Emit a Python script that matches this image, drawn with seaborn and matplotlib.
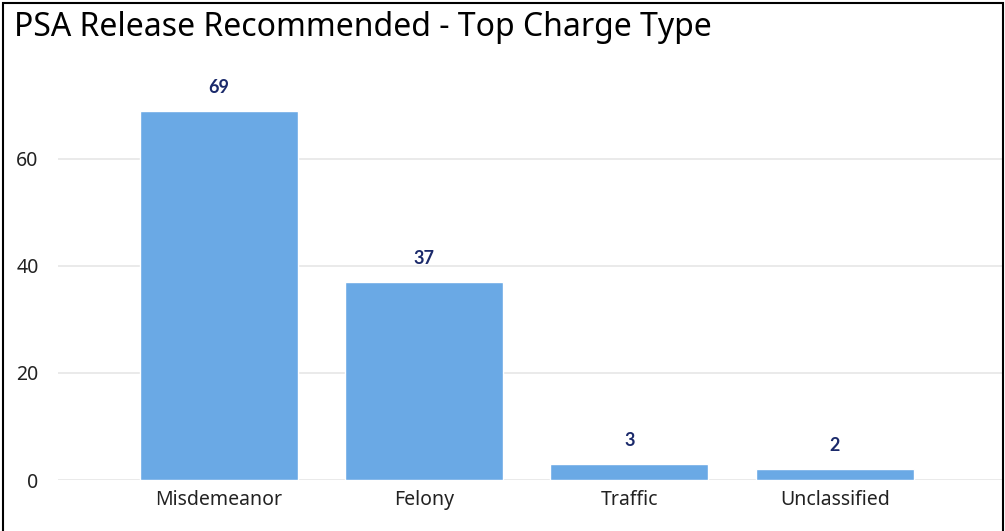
import matplotlib
matplotlib.use("Agg")
import matplotlib.pyplot as plt
import pandas as pd
import seaborn as sns
from matplotlib.patches import Rectangle

charge_types = ["Misdemeanor", "Felony", "Traffic", "Unclassified"]
counts = [69, 37, 3, 2]
y_ticks = [0, 20, 40, 60]

df = pd.DataFrame({"charge": charge_types, "count": counts})

sns.set_style("white")
plt.rcParams["font.family"] = ["Noto Sans", "DejaVu Sans"]

fig = plt.figure(figsize=(10.05, 5.31), dpi=100)
ax = fig.add_axes([58 / 1005, 51 / 531, 945 / 1005, 420 / 531])

sns.barplot(data=df, x="charge", y="count", color="#6aa9e5", width=0.77,
            saturation=1, ax=ax)

# value labels above bars
for i, v in enumerate(counts):
    ax.annotate(str(v), (i, v), xytext=(0, 11), textcoords="offset points",
                ha="center", va="bottom", fontsize=13, fontweight="bold",
                color="#1b2a6b", family="Lato")

ax.set_xlim(-0.784, 3.82)
ax.set_ylim(0, 78.5)
ax.set_yticks(y_ticks)
ax.yaxis.grid(True, color="#e6e6e6", linewidth=1.2)
ax.set_axisbelow(True)
for s in ax.spines.values():
    s.set_visible(False)
ax.tick_params(axis="both", length=0, labelsize=14, colors="#222222")
ax.tick_params(axis="x", pad=7)
ax.tick_params(axis="y", pad=14)
ax.set_xlabel("")
ax.set_ylabel("")

fig.text(14 / 1005, 1 - 27 / 531, "PSA Release Recommended - Top Charge Type",
         fontsize=23, va="center", ha="left", color="black", family="Noto Sans")

fig.patches.append(Rectangle((3 / 1005, -0.05), 1000 / 1005, 1 - 3 / 531 + 0.05,
                             transform=fig.transFigure, fill=False,
                             edgecolor="black", linewidth=1.5))

fig.savefig("out.png", dpi=100)
